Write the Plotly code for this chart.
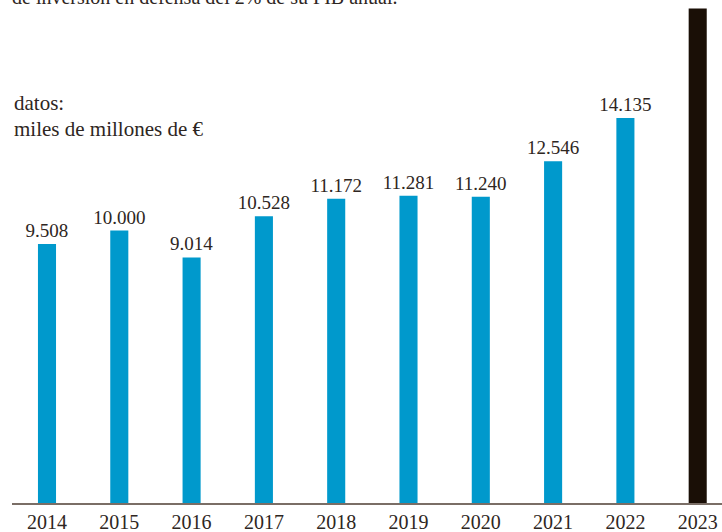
import plotly.graph_objects as go

years = [2014, 2015, 2016, 2017, 2018, 2019, 2020, 2021, 2022, 2023]
gasto = [9508, 10000, 9014, 10528, 11172, 11281, 11240, 12546, 14135, 18150]
colores = ["#0099cc"] * 9 + ["#1a0f06"]
etiquetas = [f"{v:,}".replace(",", ".") for v in gasto[:-1]] + [""]

font_serif = "Liberation Serif, DejaVu Serif, serif"
texto = "#2e2622"

fig = go.Figure()
fig.add_trace(go.Bar(
    x=years, y=gasto, width=0.25,
    marker=dict(color=colores, line=dict(width=0)),
    text=etiquetas, textposition="outside", cliponaxis=True,
    constraintext="none",
    textfont=dict(family=font_serif, size=19, color=texto),
))

# texto de cabecera cortado por arriba
fig.add_annotation(text="de inversión en defensa del 2% de su PIB anual.",
                   x=0, xref="paper", xanchor="left", xshift=-2,
                   y=1, yref="paper", yanchor="middle", yshift=3,
                   showarrow=False, font=dict(family=font_serif, size=20, color=texto))
fig.add_annotation(text="datos:",
                   x=0, xref="paper", xanchor="left", y=1, yref="paper", yanchor="middle", yshift=-103,
                   showarrow=False, font=dict(family=font_serif, size=21, color=texto))
fig.add_annotation(text="miles de millones de €",
                   x=0, xref="paper", xanchor="left", y=1, yref="paper", yanchor="middle", yshift=-129,
                   showarrow=False, font=dict(family=font_serif, size=21, color=texto))

fig.update_layout(
    width=722, height=532,
    margin=dict(l=12, r=0, t=0, b=29),
    paper_bgcolor="white", plot_bgcolor="white",
    showlegend=False,
    xaxis=dict(range=[2013.516, 2023.336], tickvals=years, ticktext=[str(y) for y in years],
               showgrid=False, zeroline=False, showline=True, linecolor="#7a6e66", linewidth=2,
               ticks="", tickfont=dict(family=font_serif, size=20, color=texto)),
    yaxis=dict(range=[0, 18466], visible=False, showgrid=False, zeroline=False),
)

fig.write_html("out.html", config={"displayModeBar": False},
               post_script="document.body.style.margin='0';")
